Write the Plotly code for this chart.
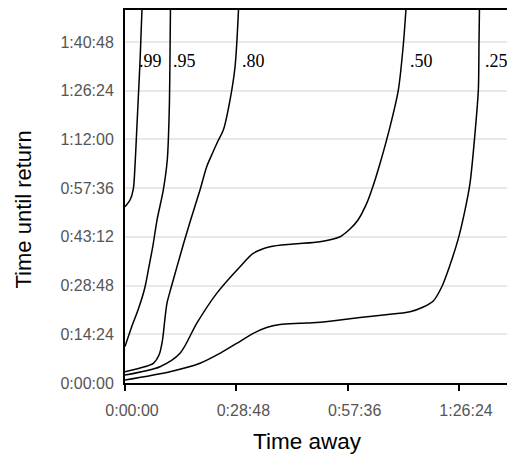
import plotly.graph_objects as go

# ---- data (seconds) ----
q99_t = [0, 78, 129, 155, 180, 204, 234, 264, 268]
q99_v = [3127, 3245, 3440, 3850, 4432, 5000, 5724, 6640, 6720]

q95_t = [0, 104, 202, 303, 372, 435, 497, 594, 656, 687, 698, 706]
q95_v = [646, 997, 1294, 1667, 2063, 2447, 2890, 3422, 3954, 4840, 5726, 6700]

q80_t = [0, 233, 439, 528, 582, 621, 652, 714, 807, 916, 1009, 1164, 1268, 1366, 1443, 1526, 1630, 1708, 1765]
q80_v = [200, 266, 349, 496, 762, 1152, 1418, 1684, 2063, 2500, 2855, 3422, 3837, 4096, 4291, 4486, 5018, 5608, 6700]

q50_t = [0, 543, 854, 1113, 1423, 1785, 1991, 2250, 2612, 3027, 3337, 3492, 3616, 3751, 3829, 3958, 4113, 4242, 4319, 4365]
q50_v = [142, 289, 526, 1058, 1590, 2063, 2299, 2417, 2465, 2505, 2594, 2730, 2890, 3185, 3422, 3894, 4543, 5195, 5993, 6700]

q25_t = [0, 698, 1164, 1474, 1733, 1991, 2198, 2405, 2716, 2975, 3337, 3647, 4009, 4423, 4630, 4785, 4915, 5044, 5174, 5277, 5355, 5432, 5484, 5494, 5502]
q25_v = [53, 200, 349, 526, 703, 880, 984, 1037, 1058, 1073, 1117, 1161, 1206, 1264, 1348, 1454, 1702, 2092, 2565, 3067, 3546, 4427, 5195, 5993, 6700]

series = [(".99", q99_t, q99_v), (".95", q95_t, q95_v), (".80", q80_t, q80_v),
          (".50", q50_t, q50_v), (".25", q25_t, q25_v)]

label_names = [".99", ".95", ".80", ".50", ".25"]
label_t = [200, 737, 1808, 4407, 5571]
label_v = [5709, 5709, 5709, 5709, 5709]

x_tickvals = [0, 1728, 3456, 5184]
x_ticktext = ["0:00:00", "0:28:48", "0:57:36", "1:26:24"]
y_tickvals = [0, 864, 1728, 2592, 3456, 4320, 5184, 6048]
y_ticktext = ["0:00:00", "0:14:24", "0:28:48", "0:43:12", "0:57:36", "1:12:00", "1:26:24", "1:40:48"]

fig = go.Figure()
for name, t, v in series:
    fig.add_trace(go.Scatter(x=t, y=v, mode="lines", name=name,
                             line=dict(color="black", width=1.5, shape="spline", smoothing=0.8),
                             hoverinfo="skip", showlegend=False))

for name, t, v in zip(label_names, label_t, label_v):
    fig.add_annotation(x=t, y=v, text=name, showarrow=False, xanchor="left", yanchor="middle",
                       font=dict(family="Liberation Serif", size=18, color="black"),
                       borderpad=0)

# figure is offset by the page's 8px body margin, so it is sized 507x450
PW, PH = 390, 373
fig.add_annotation(xref="paper", yref="paper", x=(307.5 - 125) / PW, y=(383 - 441) / PH,
                   text="Time away", showarrow=False, xanchor="center", yanchor="middle",
                   font=dict(family="Liberation Sans", size=22.5, color="black"))
fig.add_annotation(xref="paper", yref="paper", x=(22.5 - 125) / PW, y=(383 - 210) / PH,
                   text="Time until return", showarrow=False, xanchor="center", yanchor="middle",
                   textangle=-90,
                   font=dict(family="Liberation Sans", size=22, color="black"))

fig.update_xaxes(range=[0, 6053], tickvals=x_tickvals, ticktext=x_ticktext,
                 showgrid=False, zeroline=False, showline=True, linecolor="black", linewidth=2,
                 mirror=True, ticks="outside", ticklen=6, tickwidth=2, tickcolor="black",
                 ticklabelstandoff=6, ticklabelshift=7,
                 tickfont=dict(family="Liberation Sans", size=16, color="#555555"))
fig.update_yaxes(range=[0, 6615], tickvals=y_tickvals, ticktext=y_ticktext,
                 showgrid=True, gridcolor="#e8e8e8", gridwidth=1.5, zeroline=False,
                 showline=True, linecolor="black", linewidth=2, ticks="",
                 ticklabelstandoff=6,
                 tickfont=dict(family="Liberation Sans", size=16, color="#555555"))

fig.update_layout(width=507, height=450, margin=dict(l=117, r=0, t=2, b=75),
                  plot_bgcolor="white", paper_bgcolor="white")

fig.write_html("out.html")
